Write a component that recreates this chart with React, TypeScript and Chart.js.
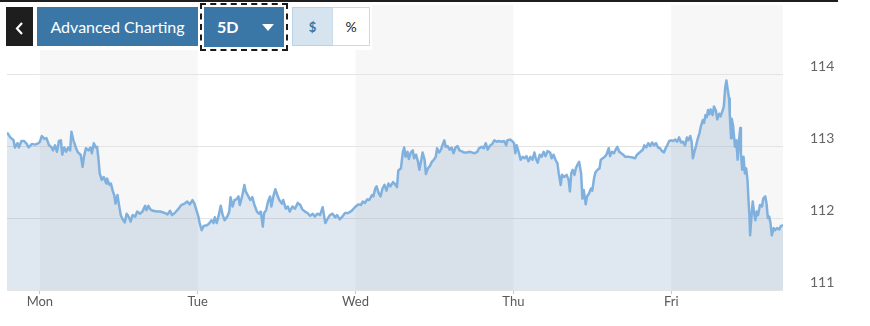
import React, { useEffect, useRef } from 'react';
import { Chart, registerables } from 'chart.js';

Chart.register(...registerables);

// Day labels and their start (hours from Monday 00:00)
const dayLabels = ['Mon', 'Tue', 'Wed', 'Thu', 'Fri'];
const dayStartHours = [0, 24, 48, 72, 96];
const yTickValues = [111, 112, 113, 114];
const X_MIN = -5;
const X_MAX = 113;
const Y_MIN = 111;
const Y_MAX = 114.96;

// Time of each observation, in hours from Monday 00:00
const hours = [
  // Sun evening / Mon
  -5.0, -4.5, -4.0, -3.8, -3.4, -3.2, -2.8, -2.4, -2.0, -1.7,
  -1.2, -0.7, -0.2, 0.0, 0.3, 0.7, 1.0, 1.4, 1.8, 2.0,
  2.3, 2.6, 2.9, 3.2, 3.4, 3.7, 4.0, 4.3, 4.6, 4.8,
  5.1, 5.5, 5.8, 6.2, 6.5, 6.7, 7.0, 7.4, 7.7, 7.9,
  8.2, 8.5, 8.7, 8.9, 9.1, 9.4, 9.7, 10.1, 10.2, 10.6,
  10.8, 11.1, 11.3, 11.5, 11.8, 12.0, 12.3, 12.6, 12.9, 13.2,
  13.5, 13.8, 14.1, 14.5, 14.8, 15.2, 15.6, 16.0, 16.2, 16.5,
  16.8, 17.2, 17.8, 18.3,
  // Mon late / Tue
  19.0, 19.4, 19.8, 20.1, 20.5, 21.0, 21.5, 22.0, 22.4, 22.8,
  23.2, 23.5, 23.8, 24.1, 24.3, 24.6, 24.9, 25.4, 25.7, 26.1,
  26.4, 26.6, 26.9, 27.2, 27.5, 27.8, 28.1, 28.5, 28.8, 29.0,
  29.3, 29.6, 29.9, 30.2, 30.4, 30.8, 31.1, 31.3, 31.7, 32.0,
  32.3, 32.6, 33.0, 33.3, 33.6, 33.9, 34.1, 34.4, 34.7, 35.0,
  35.2, 35.5, 35.8, 36.1, 36.4, 36.8, 37.0, 37.4, 37.7, 38.0,
  38.4, 38.8, 39.2, 39.6, 39.9, 40.3, 40.7, 41.1,
  // Tue late / Wed
  41.5, 41.8, 42.2, 42.6, 43.0, 43.4, 43.7, 44.1, 44.5, 44.9,
  45.2, 45.6, 46.0, 46.4, 46.9, 47.4, 47.9, 48.4, 48.8, 49.1,
  49.4, 49.8, 50.1, 50.5, 50.7, 51.0, 51.2, 51.5, 51.8, 52.1,
  52.4, 52.7, 53.0, 53.3, 53.7, 54.0, 54.3, 54.5, 54.9, 55.2,
  55.4, 55.6, 55.9, 56.1, 56.4, 56.7, 56.9, 57.2, 57.5, 57.7,
  58.0, 58.2, 58.5, 58.7, 59.0, 59.3, 59.6, 59.9, 60.2, 60.4,
  60.7, 61.0, 61.2, 61.5, 61.7, 62.0, 62.3, 62.6, 62.9, 63.2,
  63.5, 63.8, 64.1, 64.5, 64.9, 65.4,
  // Wed late / Thu
  65.7, 66.1, 66.5, 66.8, 67.2, 67.5, 67.8, 68.1, 68.4, 68.8,
  69.1, 69.5, 69.8, 70.2, 70.6, 70.9, 71.1, 71.5, 71.8, 72.1,
  72.3, 72.5, 72.8, 73.1, 73.4, 73.7, 74.0, 74.3, 74.6, 74.9,
  75.2, 75.4, 75.7, 76.0, 76.3, 76.6, 76.9, 77.2, 77.6, 77.8,
  78.1, 78.4, 78.7, 78.9, 79.2, 79.4, 79.7, 80.1, 80.4, 80.6,
  80.8, 81.0, 81.3, 81.5, 81.8, 82.0, 82.3, 82.5, 82.7, 83.0,
  83.2, 83.5, 83.8, 84.0, 84.3, 84.5, 84.8, 85.1, 85.3, 85.6,
  85.9, 86.2, 86.5, 86.7, 87.0, 87.3, 87.5, 87.8, 88.1, 88.4,
  88.7, 89.0,
  // Thu late / Fri
  89.6, 90.1, 90.5, 90.8, 91.3, 91.7, 91.9, 92.2, 92.5, 92.8,
  93.1, 93.4, 93.7, 94.0, 94.3, 94.6, 94.9, 95.2, 95.4, 95.7,
  96.0, 96.3, 96.6, 96.9, 97.2, 97.5, 97.8, 98.1, 98.4, 98.6,
  98.9, 99.1, 99.3, 99.5, 99.8, 100.0, 100.3, 100.5, 100.8, 101.0,
  101.2, 101.4, 101.6, 101.8, 102.0, 102.3, 102.5, 102.8, 103.0, 103.3,
  103.5, 103.8, 104.0, 104.2, 104.4, 104.6, 104.8, 104.9, 105.1, 105.2,
  105.4, 105.7, 105.9, 106.1, 106.3, 106.5, 106.6, 106.8, 107.0, 107.2,
  107.4, 107.6, 107.7, 107.9, 108.0, 108.2, 108.4, 108.6, 108.8, 109.0,
  109.2, 109.5, 109.8, 110.0, 110.3, 110.5, 110.7, 110.9, 111.1, 111.3,
  111.6, 111.8, 112.1, 112.4, 112.7, 113.0,
];

// Price at each observation
const prices = [
  // Sun evening / Mon
  113.19, 113.12, 113.08, 112.98, 113.04, 112.98, 113.07, 113.07, 113.03, 112.98,
  113.03, 113.02, 113.04, 113.06, 113.14, 113.10, 113.11, 113.01, 112.98, 112.94,
  113.01, 112.92, 113.07, 113.08, 112.88, 112.98, 112.92, 112.98, 112.94, 113.20,
  113.08, 112.97, 112.91, 112.88, 112.71, 112.85, 112.97, 112.94, 112.98, 112.90,
  113.04, 112.98, 112.99, 112.83, 112.62, 112.53, 112.57, 112.48, 112.55, 112.46,
  112.48, 112.37, 112.32, 112.20, 112.32, 112.20, 112.04, 111.98, 111.94, 112.06,
  112.02, 111.95, 112.04, 112.02, 112.09, 112.06, 112.09, 112.17, 112.11, 112.17,
  112.12, 112.10, 112.09, 112.09,
  // Mon late / Tue
  112.07, 112.05, 112.10, 112.04, 112.07, 112.12, 112.18, 112.20, 112.23, 112.19,
  112.25, 112.20, 112.11, 112.02, 111.93, 111.83, 111.89, 111.90, 111.92, 111.97,
  111.93, 112.01, 111.93, 112.04, 112.17, 112.04, 111.97, 112.02, 112.09, 112.29,
  112.16, 112.25, 112.26, 112.30, 112.18, 112.32, 112.46, 112.37, 112.30, 112.25,
  112.29, 112.19, 112.09, 112.06, 112.09, 111.88, 112.07, 112.11, 112.23, 112.30,
  112.16, 112.30, 112.40, 112.32, 112.25, 112.20, 112.25, 112.13, 112.16, 112.09,
  112.16, 112.13, 112.21, 112.18, 112.12, 112.09, 112.07, 112.03,
  // Tue late / Wed
  112.06, 112.02, 112.06, 112.04, 112.15, 111.93, 111.98, 112.04, 112.06, 112.01,
  112.04, 111.98, 112.02, 112.07, 112.07, 112.10, 112.15, 112.19, 112.18, 112.23,
  112.21, 112.26, 112.25, 112.32, 112.30, 112.41, 112.44, 112.35, 112.30, 112.41,
  112.46, 112.38, 112.48, 112.44, 112.50, 112.47, 112.43, 112.66, 112.69, 112.92,
  112.98, 112.85, 112.92, 112.82, 112.91, 112.94, 112.83, 112.88, 112.78, 112.67,
  112.81, 112.91, 112.81, 112.61, 112.69, 112.72, 112.78, 112.81, 112.85, 112.97,
  112.91, 112.95, 113.01, 113.08, 112.99, 113.00, 112.95, 112.98, 112.90, 112.98,
  113.00, 112.94, 112.93, 112.91, 112.91, 112.92,
  // Wed late / Thu
  112.91, 112.90, 112.92, 112.97, 112.99, 112.97, 113.04, 112.95, 113.00, 113.03,
  113.08, 113.06, 113.07, 113.06, 113.07, 113.01, 113.08, 113.09, 113.07, 113.04,
  112.90, 113.01, 112.92, 112.81, 112.85, 112.83, 112.86, 112.79, 112.85, 112.81,
  112.91, 112.83, 112.77, 112.88, 112.85, 112.92, 112.86, 112.93, 112.91, 112.83,
  112.88, 112.81, 112.76, 112.62, 112.46, 112.60, 112.57, 112.60, 112.53, 112.37,
  112.62, 112.67, 112.60, 112.69, 112.75, 112.78, 112.62, 112.27, 112.39, 112.19,
  112.30, 112.34, 112.41, 112.38, 112.57, 112.64, 112.67, 112.69, 112.81, 112.83,
  112.85, 112.89, 112.97, 112.86, 112.92, 112.90, 112.94, 112.99, 112.92, 112.90,
  112.88, 112.85,
  // Thu late / Fri
  112.85, 112.84, 112.83, 112.88, 112.92, 112.95, 113.01, 112.98, 113.04, 113.00,
  113.05, 113.01, 113.04, 112.98, 112.97, 112.93, 112.91, 112.98, 113.01, 113.07,
  113.08, 113.07, 113.09, 113.06, 113.12, 113.05, 113.06, 113.01, 113.12, 113.08,
  113.14, 113.06, 112.83, 112.91, 113.01, 113.09, 113.18, 113.27, 113.36, 113.32,
  113.43, 113.40, 113.50, 113.44, 113.51, 113.43, 113.55, 113.49, 113.37, 113.45,
  113.41, 113.49, 113.55, 113.80, 113.91, 113.78, 113.66, 113.45, 113.11, 113.38,
  113.29, 112.99, 113.08, 112.81, 113.08, 113.25, 112.90, 112.67, 112.85, 112.62,
  112.69, 112.53, 112.34, 112.02, 111.76, 112.02, 112.23, 112.07, 111.97, 112.09,
  112.04, 112.18, 112.16, 112.27, 112.30, 112.20, 112.00, 112.02, 111.93, 111.76,
  111.86, 111.83, 111.86, 111.84, 111.89, 111.90,
];

const dayBandsPlugin = {
  id: 'dayBands',
  beforeDraw(chart: any) {
    const { ctx, chartArea, scales } = chart;
    const xs = scales.x;
    ctx.save();
    ctx.fillStyle = '#f7f7f7';
    dayStartHours.forEach((start, i) => {
      if (i % 2 !== 0) return;
      const end = Math.min(start + 24, X_MAX);
      const x0 = xs.getPixelForValue(start);
      const x1 = xs.getPixelForValue(end);
      ctx.fillRect(x0, chartArea.top, x1 - x0, chartArea.bottom - chartArea.top);
    });
    ctx.restore();
  },
};

const BLUE = '#3a77a7';

export default function App() {
  const canvasRef = useRef<HTMLCanvasElement>(null);

  useEffect(() => {
    const n = Math.min(hours.length, prices.length);
    const points = [];
    for (let i = 0; i < n; i++) points.push({ x: hours[i], y: prices[i] });

    const chart = new Chart(canvasRef.current as HTMLCanvasElement, {
      type: 'line',
      data: {
        datasets: [
          {
            data: points,
            borderColor: '#80b1de',
            borderWidth: 2.5,
            backgroundColor: 'rgba(95,140,180,0.2)',
            fill: 'start',
            pointRadius: 0,
            tension: 0,
            borderJoinStyle: 'round',
          } as any,
        ],
      },
      options: {
        responsive: false,
        animation: false,
        layout: { padding: { left: 7, top: 5, right: 0, bottom: 0 } },
        plugins: { legend: { display: false }, tooltip: { enabled: false } },
        scales: {
          x: {
            type: 'linear',
            min: X_MIN,
            max: X_MAX,
            afterBuildTicks: (s: any) => {
              s.ticks = dayStartHours.map((v) => ({ value: v }));
            },
            ticks: {
              autoSkip: false,
              maxRotation: 0,
              color: '#5a5a5a',
              font: { family: 'Lato', size: 13 },
              padding: 0,
              callback: (_v: any, i: number) => dayLabels[i],
            },
            grid: { drawOnChartArea: false, tickLength: 4, color: '#c8c8c8' },
            border: { display: false },
            afterFit: (s: any) => {
              s.height = 36;
              s.paddingLeft = 0;
              s.paddingRight = 0;
            },
          },
          y: {
            position: 'right',
            min: Y_MIN,
            max: Y_MAX,
            afterBuildTicks: (s: any) => {
              s.ticks = yTickValues.map((v) => ({ value: v }));
            },
            ticks: {
              color: '#666',
              font: { family: 'Lato', size: 14 },
              padding: 27,
              labelOffset: -8,
            },
            grid: { color: '#e4e4e4', drawTicks: false },
            border: { display: false },
            afterFit: (s: any) => {
              s.width = 87;
              s.paddingTop = 0;
              s.paddingBottom = 0;
            },
          },
        },
      } as any,
      plugins: [dayBandsPlugin],
    });
    return () => chart.destroy();
  }, []);

  const btnBase: React.CSSProperties = {
    position: 'absolute',
    boxSizing: 'border-box',
    display: 'flex',
    alignItems: 'center',
    justifyContent: 'center',
    fontFamily: 'Lato, sans-serif',
  };

  return (
    <div
      style={{
        position: 'fixed',
        left: 0,
        top: 0,
        width: 870,
        height: 326,
        background: '#fff',
        overflow: 'hidden',
      }}
    >
      <canvas
        ref={canvasRef}
        width={870}
        height={326}
        style={{ position: 'absolute', left: 0, top: 0, width: 870, height: 326 }}
      />
      {/* top rule */}
      <div style={{ position: 'absolute', left: 0, top: 0, width: 838, height: 2, background: '#1e1e1e' }} />
      {/* toolbar backdrop */}
      <div style={{ position: 'absolute', left: 0, top: 2, width: 372, height: 48, background: '#fff' }} />
      {/* back button */}
      <div style={{ ...btnBase, left: 6, top: 7, width: 27, height: 39, background: '#1e1e1e' }}>
        <svg width="27" height="39" style={{ position: 'absolute', left: 0, top: 0 }}>
          <polyline points="16,16 11,21.5 16,27" fill="none" stroke="#fff" strokeWidth="2.2" />
        </svg>
      </div>
      {/* Advanced Charting */}
      <div
        style={{
          ...btnBase,
          left: 37,
          top: 7,
          width: 161,
          height: 39,
          background: BLUE,
          color: '#fff',
          fontSize: 16,
        }}
      >
        Advanced Charting
      </div>
      {/* 5D dropdown with dashed focus outline */}
      <div
        style={{
          position: 'absolute',
          left: 200,
          top: 3,
          width: 88,
          height: 48,
          boxSizing: 'border-box',
          border: '2px dashed #1a1a1a',
          padding: 2,
          background: '#fff',
        }}
      >
        <div style={{ position: 'relative', width: '100%', height: '100%', background: BLUE }}>
          <span
            style={{
              position: 'absolute',
              left: 13,
              top: 10,
              color: '#fff',
              fontFamily: 'Lato, sans-serif',
              fontWeight: 700,
              fontSize: 16,
              lineHeight: '20px',
            }}
          >
            5D
          </span>
          <svg width="14" height="10" style={{ position: 'absolute', left: 57, top: 16 }}>
            <polygon points="1,1 13,1 7,8" fill="#fff" />
          </svg>
        </div>
      </div>
      {/* $ button */}
      <div
        style={{
          ...btnBase,
          left: 292,
          top: 7,
          width: 41,
          height: 39,
          background: '#d6e4f0',
          border: '1px solid #bcd2e4',
          color: BLUE,
          fontWeight: 700,
          fontSize: 13,
        }}
      >
        $
      </div>
      {/* % button */}
      <div
        style={{
          ...btnBase,
          left: 332,
          top: 7,
          width: 38,
          height: 39,
          background: '#fff',
          border: '1px solid #c9dbe9',
          color: '#222',
          fontSize: 14,
        }}
      >
        %
      </div>
    </div>
  );
}
